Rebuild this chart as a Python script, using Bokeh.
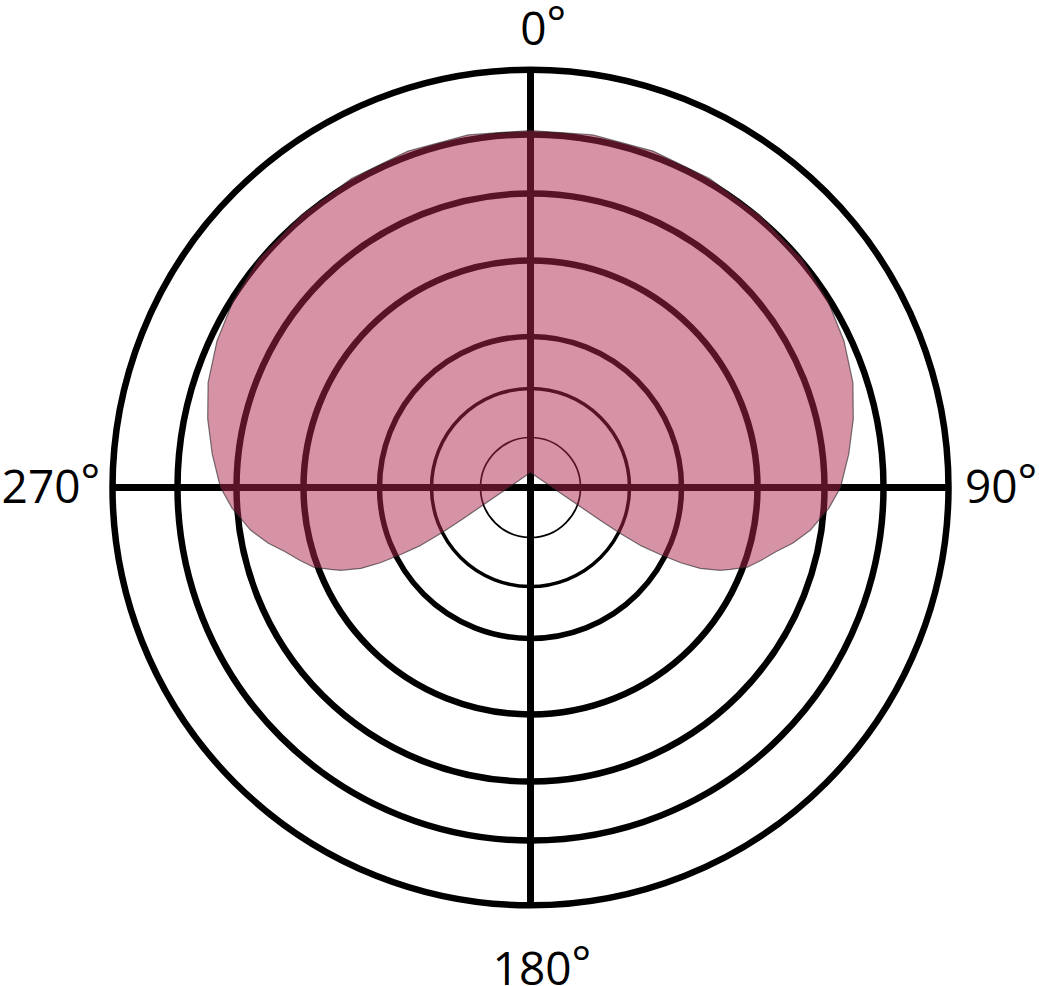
import numpy as np
from bokeh.plotting import figure
from bokeh.models import Range1d
from bokeh.embed import file_html
from bokeh.resources import INLINE
from bokeh.core.properties import value

# ---- data -------------------------------------------------------------
# grid rings (radial units)
ring_radii = [50, 99, 151, 227, 294, 353, 418]
# angular tick labels
tick_angles = [0, 90, 180, 270]
tick_labels = ["0", "90", "180", "270"]
# polar pattern, right half (degrees clockwise from top, signed radius)
pattern_angles = [0, 10, 20, 30, 40, 50, 58, 65, 72, 78, 84, 90, 94, 98.7,
                  102, 104.6, 107.5, 110.2, 112.3, 113.6, 115.5, 116.6, 117.3,
                  117.8, 117.1, 115.2, 180]
pattern_radii = [357, 358, 358, 357, 356, 355, 351, 346, 339, 330, 320, 310, 299, 283,
                 268, 254, 242, 231, 216, 207, 188, 168, 146,
                 124, 101, 77, -15]

# ---- styles -----------------------------------------------------------
ring_widths = [1.7, 3.5, 5.5, 6.5, 6.5, 6.5, 6.5]
spoke_width = 7
fill_color = "#B0284E"
font = "Open Sans"
font_size = "46px"

W, H = 1039, 986
CX, CY = 530, 487  # centre of the polar grid inside the canvas (px)

p = figure(width=W, height=H, output_backend="svg", toolbar_location=None,
           x_range=Range1d(-CX, W - CX), y_range=Range1d(-(H - CY), CY),
           min_border=0, outline_line_color=None)
p.axis.visible = False
p.grid.visible = False
p.background_fill_color = "white"
p.border_fill_color = "white"

# rings
R = max(ring_radii)
p.circle(x=[0] * len(ring_radii), y=[0] * len(ring_radii), radius=ring_radii,
         fill_color=None, line_color="black", line_width=ring_widths)

# spokes
sa = np.radians([0, 90])
p.segment(x0=-R * np.sin(sa), y0=-R * np.cos(sa), x1=R * np.sin(sa), y1=R * np.cos(sa),
          line_color="black", line_width=spoke_width)

# pattern
ang = np.radians(pattern_angles)
rad = np.array(pattern_radii, dtype=float)
xr = rad * np.sin(ang)
yr = rad * np.cos(ang)
# mirror to the left half (skip the rear apex duplicate)
xs = np.concatenate([xr, -xr[:-1][::-1]])
ys = np.concatenate([yr, yr[:-1][::-1]])
p.patch(xs, ys, fill_color=fill_color, fill_alpha=0.5,
        line_color="#222222", line_alpha=0.6, line_width=1.2)

# angular labels: number right-aligned at anchor, raised degree ring after it
label_x = [16, 487, 41, -450]
label_y = [459, 1, -481, 1]
p.text(x=label_x, y=label_y, text=tick_labels, text_font=value(font),
       text_font_size=font_size, text_align="right", text_baseline="alphabetic",
       text_color="black")
p.text(x=label_x, y=[v + 8 for v in label_y], text=["°"] * len(tick_labels),
       text_font=value(font), text_font_size=font_size, text_align="left",
       text_baseline="alphabetic", text_color="black")

open("out.html", "w").write(file_html(p, INLINE))
